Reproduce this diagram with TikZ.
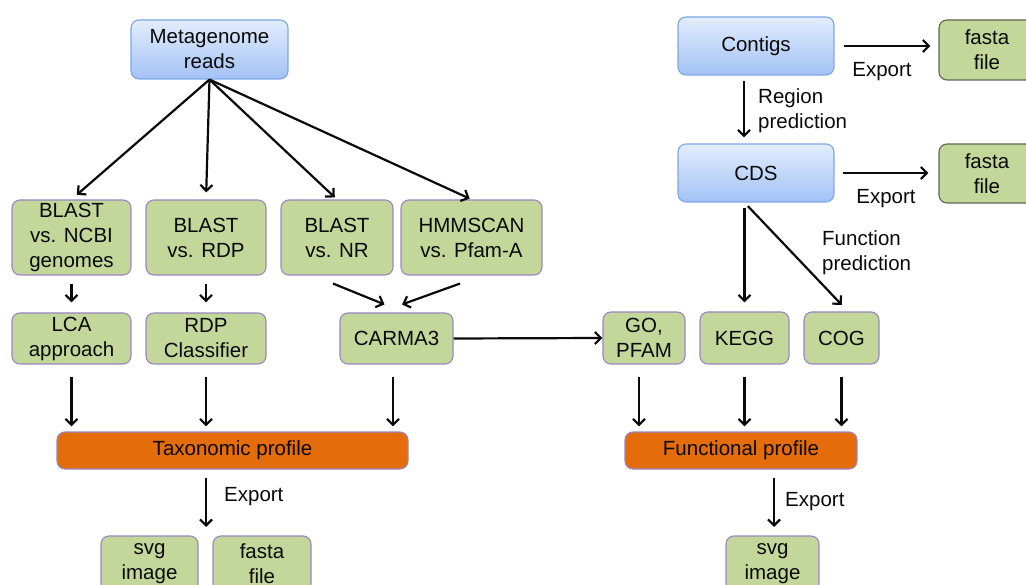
\documentclass[tikz,border=0pt]{standalone}
\usepackage{fontspec}
\setmainfont{Liberation Sans}
\usetikzlibrary{arrows.meta,calc}
\definecolor{gfill}{HTML}{C4D79B}
\definecolor{pborder}{HTML}{9A86C2}
\definecolor{dborder}{HTML}{5E6650}
\definecolor{ofill}{HTML}{E46C0A}
\definecolor{btop}{HTML}{E2EDFD}
\definecolor{bbot}{HTML}{A3C2F5}
\definecolor{bborder}{HTML}{7DA6E6}
\definecolor{ink}{HTML}{0A0A0A}
\begin{document}
\begin{tikzpicture}[x=1pt,y=-1pt,
  txt/.style={font=\fontsize{20.5}{25}\selectfont, text=ink, align=center},
  box/.style={txt, draw, line width=1.1pt, rounded corners=8pt, inner sep=0pt, anchor=center},
  gbox/.style={box, fill=gfill, draw=pborder},
  gdbox/.style={box, fill=gfill, draw=dborder},
  obox/.style={box, fill=ofill, draw=pborder},
  bbox/.style={box, top color=btop, bottom color=bbot, draw=bborder},
  lbl/.style={txt, inner sep=0pt, align=left},
  arr/.style={draw=ink, line width=2.2pt, -{Straight Barb[length=6pt,width=12pt,line width=2.2pt]}},
]
\useasboundingbox (0,0) rectangle (1026,585);

% top nodes
\node[bbox, minimum width=157pt, minimum height=59pt] (meta) at (209.5,49.5) {Metagenome\\reads};
\node[bbox, minimum width=156pt, minimum height=58pt] (contigs) at (756,46) {Contigs};
\node[bbox, minimum width=156pt, minimum height=58pt] (cds) at (756,173) {CDS};
\node[gdbox, minimum width=96pt, minimum height=60pt] (fasta1) at (987,50) {fasta\\file};
\node[gdbox, minimum width=96pt, minimum height=59pt] (fasta2) at (987,173.5) {fasta\\file};

% row 1
\node[gbox, minimum width=119pt, minimum height=75pt] (ncbi) at (71.5,237.5) {BLAST\\vs. NCBI\\genomes};
\node[gbox, minimum width=120pt, minimum height=75pt] (rdp) at (206,237.5) {BLAST\\vs. RDP};
\node[gbox, minimum width=112pt, minimum height=75pt] (nr) at (337,237.5) {BLAST\\vs. NR};
\node[gbox, minimum width=141pt, minimum height=75pt] (hmm) at (471.5,237.5) {HMMSCAN\\vs. Pfam-A};

% row 2
\node[gbox, minimum width=119pt, minimum height=51pt] (lca) at (71.5,338.5) {LCA\\approach};
\node[gbox, minimum width=120pt, minimum height=51pt] (rdpc) at (206,338.5) {RDP\\Classifier};
\node[gbox, minimum width=113pt, minimum height=51pt] (carma) at (396.5,338.5) {CARMA3};
\node[gbox, minimum width=82pt, minimum height=52pt] (go) at (644,338) {GO,\\PFAM};
\node[gbox, minimum width=89pt, minimum height=52pt] (kegg) at (744.5,338) {KEGG};
\node[gbox, minimum width=75pt, minimum height=52pt] (cog) at (841.5,338) {COG};

% profiles
\node[obox, minimum width=351pt, minimum height=37pt] (tax) at (232.5,450.5) {Taxonomic profile};
\node[obox, minimum width=232pt, minimum height=37pt] (func) at (741,450.5) {Functional profile};

% outputs
\node[gbox, minimum width=97pt, minimum height=56pt] (svg1) at (149.5,564) {svg\\image};
\node[gbox, minimum width=98pt, minimum height=56pt] (fasta3) at (262,564) {fasta\\file};
\node[gbox, minimum width=93pt, minimum height=56pt] (svg2) at (772.5,564) {svg\\image};

% labels
\node[lbl] (lexp1) at (882,72) {Export};
\node[lbl] (lexp2) at (886,199) {Export};
\node[lbl, anchor=west] (lregion) at (758,111) {Region\\prediction};
\node[lbl, anchor=west] (lfunc) at (822,253) {Function\\prediction};
\node[lbl, anchor=west] (lexp3) at (224,497) {Export};
\node[lbl, anchor=west] (lexp4) at (785,502) {Export};

% free ends
\coordinate (texp) at (206,527);
\coordinate (fexp) at (774,527);

% meta fan-out
\draw[arr, shorten >=7pt] (meta.south) -- (ncbi.north);
\draw[arr, shorten >=7pt] (meta.south) -- (rdp.north);
\draw[arr, shorten >=3pt] (meta.south) -- (nr.north);
\draw[arr, shorten >=2pt] (meta.south) -- (hmm.north);

% row1 -> row2
\draw[arr, shorten <=8pt, shorten >=10pt] (ncbi.south) -- (lca.north);
\draw[arr, shorten <=8pt, shorten >=10pt] (rdp.south) -- (rdpc.north);
\draw[arr] ([shift={(-4,8)}]nr.south) -- ([shift={(-12,-8)}]carma.north);
\draw[arr] ([shift={(-11.5,8)}]hmm.south) -- ([shift={(5.5,-8)}]carma.north);

% row2 -> taxonomic
\draw[arr, shorten <=12pt, shorten >=5pt] (lca.south) -- (lca.south |- tax.north);
\draw[arr, shorten <=12pt, shorten >=5pt] (rdpc.south) -- (rdpc.south |- tax.north);
\draw[arr, shorten <=12pt, shorten >=5pt] ([xshift=-3.5]carma.south) -- ([xshift=-3.5]carma.south |- tax.north);

% carma -> go
\draw[arr] (carma.east) -- (go.west);

% taxonomic export
\draw[arr, shorten <=8pt] (tax.south -| texp) -- (texp);

% contigs / cds
\draw[arr, shorten <=5pt, shorten >=6pt] ([xshift=-12]contigs.south) -- ([xshift=-12]cds.north);
\draw[arr, shorten <=9pt, shorten >=8pt] (contigs.east) -- (contigs.east -| fasta1.west);
\draw[arr, shorten <=8pt, shorten >=10pt] (cds.east) -- (fasta2.west |- cds.east);
\draw[arr, shorten <=5pt, shorten >=9pt] (cds.south -| kegg.north) -- (kegg.north);
\draw[arr, shorten <=5pt, shorten >=9pt] (cds.south -| kegg.north) -- ([xshift=6.5]cog.north);

% row2 -> functional
\draw[arr, shorten <=12pt, shorten >=5pt] ([xshift=-5]go.south) -- ([xshift=-5]go.south |- func.north);
\draw[arr, shorten <=12pt, shorten >=5pt] (kegg.south) -- (kegg.south |- func.north);
\draw[arr, shorten <=12pt, shorten >=5pt] (cog.south) -- (cog.south |- func.north);

% functional export
\draw[arr, shorten <=8pt] (func.south -| fexp) -- (fexp);
\end{tikzpicture}
\end{document}
